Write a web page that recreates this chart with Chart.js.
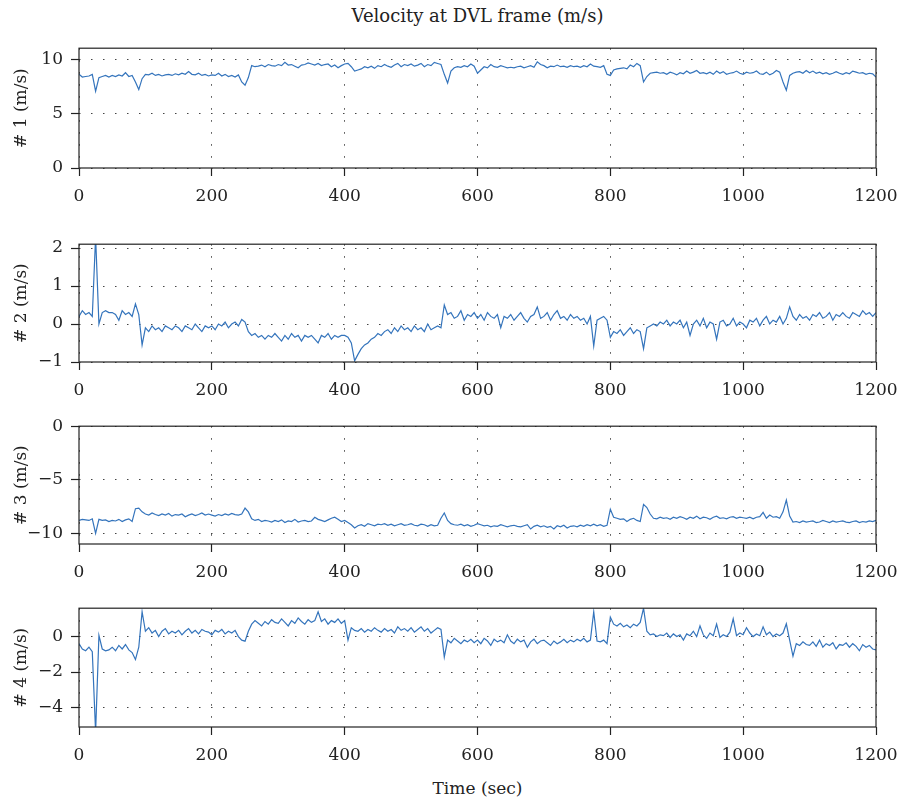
<!DOCTYPE html>
<html>
<head>
<meta charset="utf-8">
<script src="https://cdn.jsdelivr.net/npm/chart.js@4.4.1/dist/chart.umd.min.js"></script>
<style>
  body { margin: 0; background: #fff; }
  #wrap { position: relative; width: 900px; height: 801px; font-family: "DejaVu Serif", serif; color: #222; }
  canvas { position: absolute; left: 0; }
  .lbl { position: absolute; left: 79px; width: 797px; text-align: center; font-size: 17px; }
</style>
</head>
<body>
<div id="wrap">
  <div class="lbl" style="top:5px; font-size:18px">Velocity at DVL frame (m/s)</div>
  <canvas id="c1" width="900" height="178" style="top:30px"></canvas>
  <canvas id="c2" width="900" height="176" style="top:226px"></canvas>
  <canvas id="c3" width="900" height="176" style="top:408px"></canvas>
  <canvas id="c4" width="900" height="177" style="top:590px"></canvas>
  <div class="lbl" style="top:778px">Time (sec)</div>
</div>
<script>
// sample times (sec), one every 5 s
const time = Array.from({ length: 241 }, (_, i) => i * 5);

const xTicks = [0, 200, 400, 600, 800, 1000, 1200];

const vel1 = [
  8.6, 8.35, 8.4, 8.45, 8.6, 7.05, 8.3, 8.4, 8.5, 8.35,
  8.5, 8.4, 8.55, 8.45, 8.75, 8.4, 8.5, 7.9, 7.2, 8.2,
  8.6, 8.55, 8.7, 8.5, 8.6, 8.45, 8.55, 8.6, 8.5, 8.65,
  8.55, 8.7, 8.6, 8.85, 8.6, 8.55, 8.7, 8.5, 8.6, 8.45,
  8.55, 8.5, 8.7, 8.45, 8.6, 8.4, 8.5, 8.35, 8.55, 7.9,
  7.6, 8.3, 9.4, 9.3, 9.35, 9.45, 9.3, 9.5, 9.4, 9.35,
  9.5, 9.4, 9.7, 9.45, 9.5, 9.35, 9.2, 9.45, 9.5, 9.65,
  9.55, 9.45, 9.6, 9.4, 9.5, 9.55, 9.3, 9.45, 9.2, 9.4,
  9.55, 9.6, 9.3, 8.9, 9.0, 9.1, 9.3, 9.2, 9.35, 9.15,
  9.4, 9.3, 9.5, 9.35, 9.25, 9.45, 9.6, 9.3, 9.5, 9.4,
  9.55, 9.35, 9.45, 9.6, 9.3, 9.5, 9.4, 9.7, 9.6, 9.5,
  8.6, 7.8, 8.9, 9.2, 9.3, 9.25, 9.4, 9.3, 9.55, 9.35,
  8.7, 9.0, 9.3, 9.2, 9.5, 9.3, 9.25, 9.4, 9.3, 9.2,
  9.25, 9.2, 9.3, 9.35, 9.2, 9.3, 9.4, 9.25, 9.75, 9.5,
  9.4, 9.2, 9.35, 9.3, 9.45, 9.3, 9.35, 9.25, 9.4, 9.3,
  9.35, 9.25, 9.4, 9.3, 9.55, 9.35, 9.3, 9.25, 9.4, 8.6,
  8.5, 9.0, 9.1, 9.15, 9.2, 9.1, 9.45, 9.3, 9.6, 9.4,
  7.9, 8.4, 8.7, 8.75, 8.8, 8.7, 8.75, 8.6, 8.8, 8.7,
  8.55, 8.75, 8.65, 8.9, 8.7, 8.8, 8.95, 8.7, 8.75, 8.65,
  8.8, 8.6, 8.9, 8.7, 8.85, 8.6, 8.7, 8.75, 8.9, 8.7,
  8.6, 8.8, 8.7, 8.75, 8.9, 8.65, 8.6, 8.8, 8.55, 8.7,
  8.95, 8.8, 7.9, 7.15, 8.5, 8.7, 8.8, 8.85, 8.7, 8.95,
  8.75, 8.9, 8.7, 8.8, 8.65, 8.75, 8.6, 8.7, 8.85, 8.7,
  8.6, 8.75, 8.65, 8.9, 8.8, 8.7, 8.75, 8.6, 8.7, 8.65,
  8.35
];

const vel2 = [
  0.2, 0.35, 0.25, 0.3, 0.2, 2.3, 0.0, 0.3, 0.35, 0.3,
  0.3, 0.25, 0.1, 0.35, 0.25, 0.3, 0.2, 0.53, 0.25, -0.55,
  -0.1, -0.2, -0.05, -0.15, -0.1, -0.2, -0.05, -0.1, -0.15, -0.05,
  -0.1, -0.2, -0.05, -0.1, -0.15, 0.0, -0.1, -0.2, -0.05, -0.1,
  -0.05, -0.15, 0.0, -0.05, 0.05, -0.1, 0.0, 0.05, -0.05, 0.12,
  0.05, -0.2, -0.3, -0.25, -0.35, -0.3, -0.4, -0.3, -0.35, -0.25,
  -0.35, -0.45, -0.3, -0.4, -0.25, -0.35, -0.3, -0.45, -0.3, -0.35,
  -0.3, -0.4, -0.5, -0.3, -0.35, -0.25, -0.4, -0.3, -0.35, -0.3,
  -0.3, -0.35, -0.5, -0.97, -0.8, -0.65, -0.55, -0.5, -0.4, -0.35,
  -0.25, -0.3, -0.2, -0.15, -0.25, -0.1, -0.2, -0.05, -0.15, -0.1,
  -0.2, -0.05, -0.15, -0.1, -0.2, 0.0, -0.15, -0.1, -0.05, -0.1,
  0.5, 0.25, 0.3, 0.15, 0.2, 0.35, 0.1, 0.25, 0.2, 0.3,
  0.15, 0.25, 0.1, 0.3, 0.2, 0.15, 0.25, -0.1, 0.2, 0.15,
  0.25, 0.1, 0.2, 0.3, 0.15, 0.05, 0.2, 0.25, 0.45, 0.15,
  0.2, 0.3, 0.1, 0.25, 0.35, 0.15, 0.2, 0.1, 0.25, 0.15,
  0.2, 0.1, 0.15, 0.0, 0.2, -0.58, 0.1, 0.15, 0.2, 0.1,
  -0.35, -0.2, -0.25, -0.15, -0.3, -0.2, -0.1, -0.25, -0.15, -0.2,
  -0.65, -0.1, -0.05, 0.0, -0.05, 0.05, 0.0, 0.1, -0.05, 0.05,
  0.0, 0.1, -0.1, 0.05, -0.3, 0.0, 0.1, -0.05, 0.15, -0.1,
  0.05, 0.0, -0.4, 0.05, 0.1, -0.05, 0.0, 0.15, -0.05, 0.05,
  0.0, -0.1, 0.1, 0.05, 0.15, -0.05, 0.1, 0.2, 0.0, 0.1,
  0.05, 0.2, 0.0, 0.15, 0.45, 0.2, 0.1, 0.25, 0.15, 0.2,
  0.1, 0.25, 0.2, 0.3, 0.15, 0.2, 0.3, 0.1, 0.25, 0.2,
  0.3, 0.2, 0.15, 0.3, 0.25, 0.2, 0.35, 0.25, 0.3, 0.2,
  0.3
];

const vel3 = [
  -8.8, -8.7, -8.75, -8.8, -8.65, -10.0, -8.7, -8.8, -8.75, -8.9,
  -8.8, -8.85, -8.7, -8.9, -8.75, -8.65, -8.9, -7.7, -7.65, -8.0,
  -8.2, -8.3, -8.1, -8.25, -8.35, -8.2, -8.3, -8.15, -8.4, -8.25,
  -8.3, -8.2, -8.45, -8.3, -8.2, -8.35, -8.25, -8.1, -8.3, -8.2,
  -8.3, -8.4, -8.25, -8.35, -8.2, -8.3, -8.15, -8.25, -8.3, -8.2,
  -7.65, -8.0, -8.65, -8.8, -8.7, -8.9, -8.8, -8.85, -8.95, -8.8,
  -8.9, -8.75, -9.0, -8.85, -8.9, -8.7, -8.95, -8.85, -8.8, -8.9,
  -8.85, -8.5, -8.7, -8.8, -8.9, -8.75, -8.6, -8.5, -8.7, -8.9,
  -8.8, -9.0, -9.2, -9.5, -9.3, -9.2, -9.35, -9.1, -9.2, -9.3,
  -9.15, -9.2, -9.1, -9.25, -9.15, -9.3, -9.2, -9.1, -9.25, -9.2,
  -9.1, -9.25, -9.3, -9.15, -9.2, -9.35, -9.2, -9.3, -9.25, -8.6,
  -8.1, -8.8, -9.1, -9.2, -9.25, -9.15, -9.3, -9.2, -9.35, -9.25,
  -9.1, -9.2, -9.3, -9.25, -9.4, -9.3, -9.35, -9.2, -9.3, -9.4,
  -9.3, -9.25, -9.35, -9.4, -9.3, -9.2, -9.6, -9.35, -9.25, -9.4,
  -9.3, -9.45, -9.35, -9.6, -9.3, -9.4, -9.25, -9.5, -9.35, -9.3,
  -9.4, -9.25, -9.35, -9.2, -9.3, -9.15, -9.3, -9.2, -9.35, -9.25,
  -7.75, -8.5, -8.6, -8.7, -8.65, -8.9, -8.7, -8.6, -8.8, -8.9,
  -7.3, -7.6, -8.2, -8.6, -8.65, -8.5, -8.6, -8.55, -8.7, -8.5,
  -8.6, -8.45, -8.55, -8.7, -8.5, -8.6, -8.4, -8.65, -8.5, -8.55,
  -8.7, -8.5, -8.4, -8.6, -8.55, -8.65, -8.5, -8.45, -8.6, -8.5,
  -8.55, -8.6, -8.5, -8.65, -8.5, -8.45, -8.05, -8.6, -8.3, -8.5,
  -8.45, -8.6, -8.0, -6.9, -8.4, -8.95, -8.9, -9.0, -8.85, -8.95,
  -8.9, -8.85, -9.0, -8.95, -8.8, -8.9, -9.0, -8.85, -8.95, -8.9,
  -8.85, -8.95, -9.0, -8.9, -8.85, -9.0, -8.9, -8.95, -8.85, -8.9,
  -8.8
];

const vel4 = [
  -0.4, -0.7, -0.8, -0.6, -0.85, -5.4, 0.07, -0.7, -0.8, -0.75,
  -0.6, -0.8, -0.5, -0.7, -0.45, -0.75, -0.9, -1.3, -0.6, 1.4,
  0.3, 0.5, 0.2, 0.35, 0.0, 0.3, 0.45, 0.15, 0.3, 0.2,
  0.35, 0.1, 0.3, 0.45, 0.2, 0.35, 0.15, 0.4, 0.3, 0.25,
  0.1, 0.35, 0.25, 0.4, 0.15, 0.3, 0.2, 0.35, 0.0, -0.2,
  -0.26, 0.3, 0.7, 0.9, 0.75, 0.6, 0.85, 0.7, 0.95, 0.8,
  0.75, 1.0, 0.8, 0.6, 0.9, 0.75, 1.05, 0.85, 0.7, 0.95,
  0.8, 0.9, 1.4, 0.85, 1.0, 0.7, 0.9, 0.8, 1.0, 0.75,
  0.9, -0.2, 0.5, 0.35, 0.3, 0.45, 0.25, 0.4, 0.3, 0.5,
  0.35, 0.25, 0.45, 0.3, 0.4, 0.2, 0.55, 0.35, 0.45, 0.3,
  0.5, 0.25, 0.4, 0.55, 0.3, 0.45, 0.2, 0.35, 0.5, 0.4,
  -1.16, -0.2, -0.35, -0.1, -0.25, -0.4, -0.2, -0.3, -0.15, -0.35,
  -0.2, -0.4, -0.1, -0.25, -0.5, -0.15, -0.3, -0.2, -0.35, 0.1,
  -0.25, -0.4, -0.15, -0.3, -0.2, -0.6, -0.3, -0.15, -0.4, -0.25,
  -0.2, -0.35, -0.5, -0.25, -0.4, -0.3, -0.15, -0.35, -0.2, -0.3,
  -0.15, -0.25, -0.1, -0.3, -0.2, 1.4, -0.25, -0.3, -0.2, -0.4,
  1.1, 0.7, 0.6, 0.75, 0.55, 0.65, 0.5, 0.7, 0.6, 0.8,
  1.6, 0.3, 0.1, 0.15, 0.0, 0.1, 0.05, 0.2, -0.05, 0.15,
  0.0, 0.1, -0.2, 0.15, 0.05, 0.3, 0.0, 0.6, 0.1, -0.1,
  0.2, 0.05, 0.7, -0.05, 0.1, 0.0, 0.25, 1.0, 0.05, 0.2,
  0.1, 0.5, 0.2, 0.0, 0.15, 0.05, 0.55, 0.1, 0.25, 0.0,
  0.15, 0.05, 0.2, 0.72, -0.2, -1.1, -0.4, -0.5, -0.3, -0.45,
  -0.5, -0.3, -0.55, -0.2, -0.6, -0.4, -0.5, -0.35, -0.7, -0.45,
  -0.5, -0.35, -0.6, -0.4, -0.55, -0.8, -0.45, -0.6, -0.5, -0.7,
  -0.75
];

const yTicks1 = [0, 5, 10];
const yTicks2 = [-1, 0, 1, 2];
const yTicks3 = [-10, -5, 0];
const yTicks4 = [-4, -2, 0];

const FONT = { family: 'DejaVu Serif', size: 17 };
const INK = '#222';
const LINE = '#3474bc';

// black frame round the plot area, drawn on top of the trace
const framePlugin = {
  id: 'frame',
  afterDraw(chart) {
    const { ctx, chartArea: a } = chart;
    ctx.save();
    ctx.strokeStyle = INK;
    ctx.lineWidth = 1.2;
    ctx.strokeRect(a.left, a.top, a.right - a.left, a.bottom - a.top);
    ctx.restore();
  }
};

function fmt(v) {
  return v < 0 ? '\u2212' + Math.abs(v) : String(v);
}

function makePanel(id, values, yMin, yMax, yTicks, yTitle) {
  const points = time.map((t, i) => ({ x: t, y: values[i] }));
  return new Chart(document.getElementById(id), {
    type: 'line',
    data: {
      datasets: [{
        data: points,
        borderColor: LINE,
        borderWidth: 1.2,
        pointRadius: 0,
        tension: 0
      }]
    },
    options: {
      responsive: false,
      animation: false,
      layout: { padding: { top: 15, right: 24, left: 0, bottom: 0 } },
      plugins: { legend: { display: false }, tooltip: { enabled: false } },
      scales: {
        x: {
          type: 'linear',
          min: 0,
          max: 1200,
          afterBuildTicks: s => { s.ticks = xTicks.map(v => ({ value: v })); },
          afterFit: s => { s.height = 40; s.paddingLeft = 0; s.paddingRight = 0; },
          ticks: { font: FONT, color: INK, padding: 10, maxRotation: 0, callback: fmt },
          grid: { color: '#444', lineWidth: 1, tickLength: 8, tickColor: INK, tickWidth: 1.2 },
          border: { display: false, dash: [1.5, 10.5] }
        },
        y: {
          min: yMin,
          max: yMax,
          afterBuildTicks: s => { s.ticks = yTicks.map(v => ({ value: v })); },
          afterFit: s => { s.width = 79; },
          ticks: { font: FONT, color: INK, padding: 8, callback: fmt },
          grid: { color: '#444', lineWidth: 1, tickLength: 8, tickColor: INK, tickWidth: 1.2 },
          border: { display: false, dash: [1.5, 10.5] },
          title: { display: true, text: yTitle, font: FONT, color: INK, padding: { top: 11, bottom: 0 } }
        }
      }
    },
    plugins: [framePlugin]
  });
}

makePanel('c1', vel1, 0, 11, yTicks1, '# 1 (m/s)');
makePanel('c2', vel2, -1, 2.1, yTicks2, '# 2 (m/s)');
makePanel('c3', vel3, -11, 0, yTicks3, '# 3 (m/s)');
makePanel('c4', vel4, -5.1, 1.6, yTicks4, '# 4 (m/s)');
</script>
</body>
</html>
